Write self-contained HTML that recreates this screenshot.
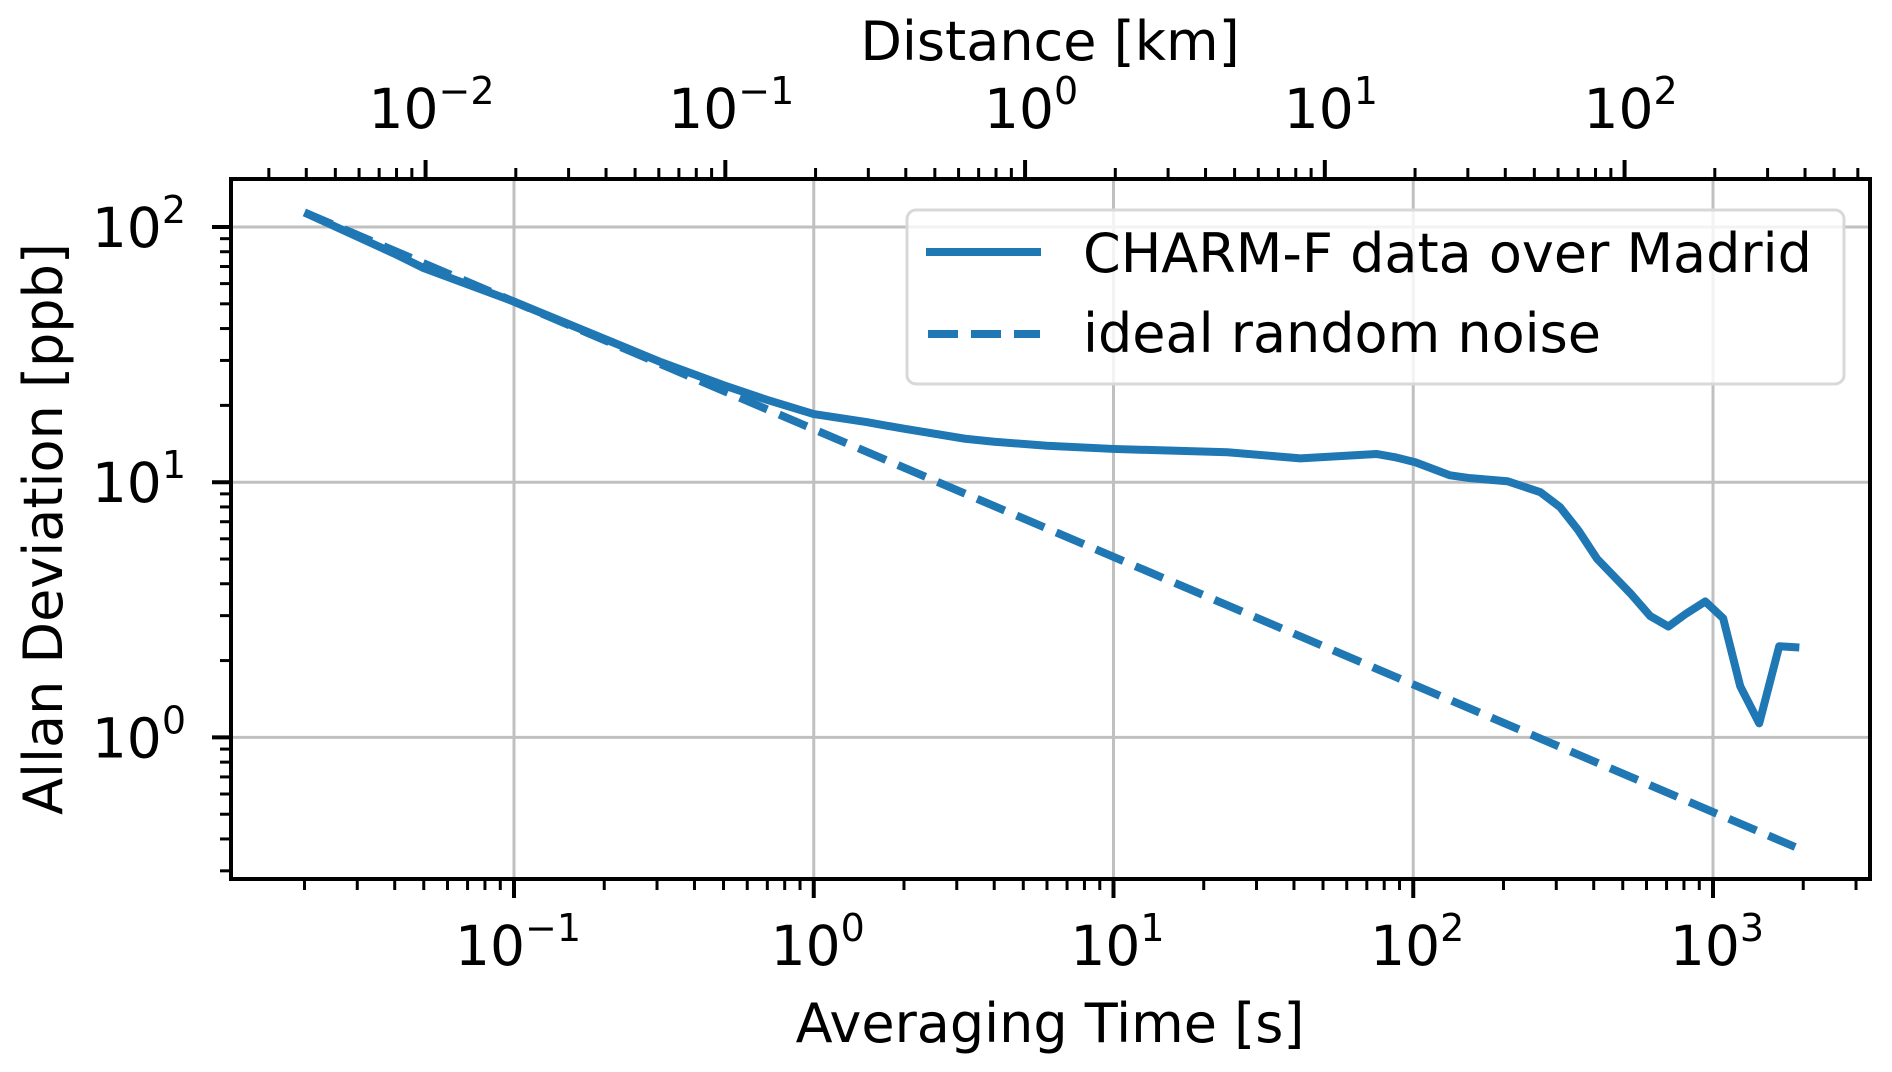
<!DOCTYPE html>
<html><head><meta charset="utf-8"><style>
html,body{margin:0;padding:0;background:#fff}
svg{display:block;font-family:"DejaVu Sans","Liberation Sans",sans-serif}
</style></head><body>
<svg id="chart" width="1892" height="1072" viewBox="0 0 1892 1072"></svg>
<script>
const tauData=[0.02,0.04,0.05,0.1,0.31,0.5,0.7,1,1.5,2,3.2,4,6,10,24,42,75.3,87.7,101.6,132.7,154.9,206,265.5,309,355,411,530,617,710,815,942,1081,1233,1426,1663,1941];
const adevData=[114,78.5,69,51,29.5,24,21,18.5,17.2,16.2,14.8,14.4,13.9,13.5,13.1,12.4,12.9,12.5,11.97,10.64,10.37,10.09,9.14,7.98,6.49,5.0,3.67,2.99,2.72,3.06,3.41,2.93,1.585,1.135,2.275,2.25];
const idealTau=[0.02,1880];
const idealAdev=[114,0.372];
const xTickExp=[-1,0,1,2,3];
const yTickExp=[0,1,2];
const topTickExp=[-2,-1,0,1,2];
const speedLog=-0.705; // distance[km] = time[s]*10^speedLog

const L=231,R=1870,T=179,B=879;
const xDec0=514,xPerDec=299.75;
const yDec2=227,yPerDec=255.2;
const X=t=>xDec0+(Math.log10(t)+1)*xPerDec;
const Y=v=>yDec2-(Math.log10(v)-2)*yPerDec;
const XD=d=>X(d/Math.pow(10,speedLog));
const NS="http://www.w3.org/2000/svg";
const svg=document.getElementById('chart');
function mk(tag,attrs,parent){const e=document.createElementNS(NS,tag);for(const k in attrs)e.setAttribute(k,attrs[k]);(parent||svg).appendChild(e);return e;}

const tmin=Math.pow(10,-1+(L-xDec0)/xPerDec),tmax=Math.pow(10,-1+(R-xDec0)/xPerDec);
const vmin=Math.pow(10,2-(B-yDec2)/yPerDec),vmax=Math.pow(10,2+(yDec2-T)/yPerDec);

const grid=mk('g',{});


xTickExp.forEach(e=>{const x=X(Math.pow(10,e));mk('line',{x1:x,x2:x,y1:T,y2:B,stroke:'#c0c0c0','stroke-width':3},grid);});
yTickExp.forEach(e=>{const y=Y(Math.pow(10,e));mk('line',{x1:L,x2:R,y1:y,y2:y,stroke:'#c0c0c0','stroke-width':3},grid);});

const clip=mk('clipPath',{id:'pc'});mk('rect',{x:L,y:T,width:R-L,height:B-T},clip);
const ideal=mk('polyline',{points:idealTau.map((t,i)=>X(t)+','+Y(idealAdev[i])).join(' '),fill:'none',stroke:'#1f77b4','stroke-width':8,'stroke-dasharray':'30 13','clip-path':'url(#pc)'});


const data=mk('polyline',{points:tauData.map((t,i)=>X(t)+','+Y(adevData[i])).join(' '),fill:'none',stroke:'#1f77b4','stroke-width':8,'stroke-linejoin':'round','clip-path':'url(#pc)'});



const frame=mk('rect',{x:L,y:T,width:R-L,height:B-T,fill:'none',stroke:'#000','stroke-width':4});



function label(x,y,exp,anchor,name){
  const t=mk('text',{x:x,y:y,'font-size':55,'text-anchor':anchor,fill:'#000'});
  
  
  const a=mk('tspan',{},t);a.textContent='10';
  const b=mk('tspan',{dy:-24,'font-size':38},t);b.textContent=(exp<0?'\u2212':'')+Math.abs(exp);
  return t;
}
for(let e=-2;e<=3;e++){for(let m=1;m<10;m++){const t=m*Math.pow(10,e);if(t<tmin||t>tmax)continue;const x=X(t);mk('line',{x1:x,x2:x,y1:B,y2:B+(m==1?19:11),stroke:'#000','stroke-width':m==1?4:3});}}
xTickExp.forEach(e=>label(X(Math.pow(10,e))+4,965,e,'middle','x-tick-label'));
const dmin=tmin*Math.pow(10,speedLog),dmax=tmax*Math.pow(10,speedLog);
for(let e=-3;e<=3;e++){for(let m=1;m<10;m++){const d=m*Math.pow(10,e);if(d<dmin||d>dmax)continue;const x=XD(d);mk('line',{x1:x,x2:x,y1:T,y2:T-(m==1?19:11),stroke:'#000','stroke-width':m==1?4:3});}}
topTickExp.forEach(e=>label(XD(Math.pow(10,e))+6,128,e,'middle','top-tick-label'));
for(let e=-1;e<=2;e++){for(let m=1;m<10;m++){const v=m*Math.pow(10,e);if(v<vmin||v>vmax)continue;const y=Y(v);mk('line',{x1:L,x2:L-(m==1?19:11),y1:y,y2:y,stroke:'#000','stroke-width':m==1?4:3});}}
yTickExp.forEach(e=>label(186,Y(Math.pow(10,e))+20,e,'end','y-tick-label'));

const xt=mk('text',{x:1050,y:1042,'font-size':54,'text-anchor':'middle'});xt.textContent='Averaging Time [s]';


const tt=mk('text',{x:1050,y:60,'font-size':54,'text-anchor':'middle'});tt.textContent='Distance [km]';


const yt=mk('text',{x:0,y:0,'font-size':54,'text-anchor':'middle',transform:'translate(62,529) rotate(-90)'});yt.textContent='Allan Deviation [ppb]';



const lg=mk('g',{});


mk('rect',{x:907,y:210,width:937,height:174,rx:9,fill:'#fff','fill-opacity':0.8,stroke:'#d8d8d8','stroke-width':3},lg);
mk('line',{x1:926,x2:1041,y1:252,y2:252,stroke:'#1f77b4','stroke-width':8},lg);
mk('line',{x1:928,x2:1040,y1:334,y2:334,stroke:'#1f77b4','stroke-width':8,'stroke-dasharray':'30 13'},lg);
const l1=mk('text',{x:1083,y:272,'font-size':54},lg);l1.textContent='CHARM-F data over Madrid';


const l2=mk('text',{x:1083,y:352,'font-size':54},lg);l2.textContent='ideal random noise';


</script>
</body></html>
